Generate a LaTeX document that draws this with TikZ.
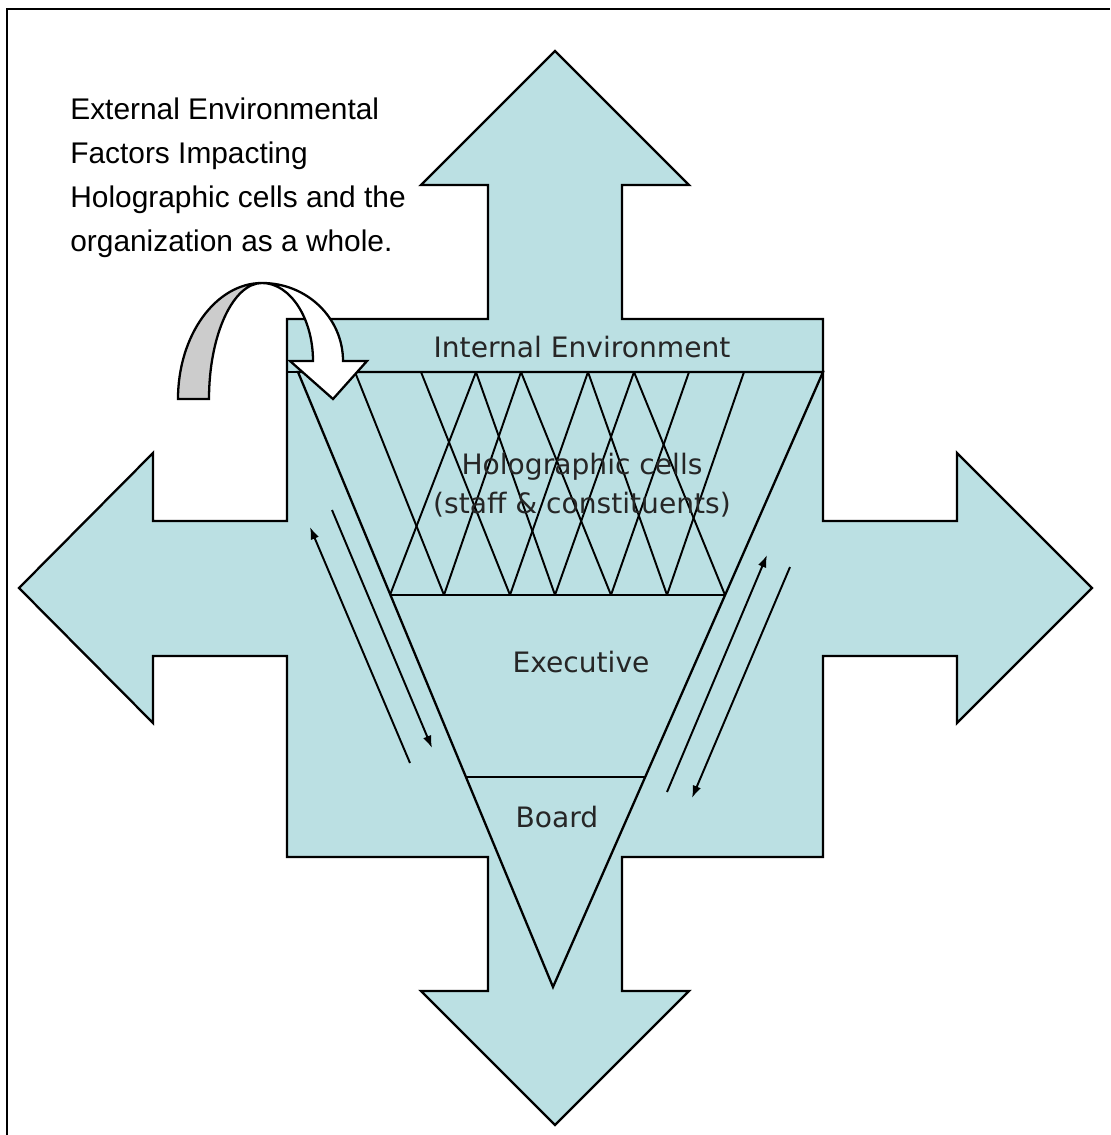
\documentclass[tikz,border=0pt]{standalone}
\usepackage{fontspec}
\setmainfont{Liberation Sans}
\newfontfamily\labelfont{DejaVu Sans}
\usetikzlibrary{arrows.meta}

\definecolor{crossfill}{RGB}{187,224,227}
\definecolor{backgrey}{RGB}{204,204,204}

\tikzset{
  outline/.style={draw=black, line width=1.3pt, line join=miter},
  cellline/.style={line width=1.1pt},
  flow/.style={line width=1.1pt, -{Latex[length=7pt,width=5pt]}},
  lbl/.style={font=\labelfont\fontsize{16}{22}\selectfont, text=black!85, align=center, inner sep=0pt},
  extlbl/.style={font=\fontsize{17}{25}\selectfont, align=left, inner sep=0pt},
}

\begin{document}
\begin{tikzpicture}[x=0.02cm, y=-0.02cm]
\useasboundingbox (0,0) rectangle (1110,1135);

\draw[line width=1.2pt] (7,1135) -- (7,9) -- (1110,9);

% four arrows round the square
\draw[outline, fill=crossfill] (555,51) -- (689,185) -- (622,185) -- (622,319) -- (823,319)
  -- (823,521) -- (957,521) -- (957,453) -- (1092,588) -- (957,723) -- (957,656) -- (823,656)
  -- (823,857) -- (622,857) -- (622,991) -- (689,991) -- (555,1125) -- (421,991) -- (488,991)
  -- (488,857) -- (287,857) -- (287,656) -- (153,656) -- (153,723) -- (19,588) -- (153,453)
  -- (153,521) -- (287,521) -- (287,319) -- (488,319) -- (488,185) -- (421,185) -- cycle;

\draw[outline] (287,372) -- (823,372);

% triangle
\draw[outline] (298,372) -- (823,372) -- (553,987) -- cycle;
\draw[outline] (390,595) -- (725,595);
\draw[outline] (467,777) -- (645,777);

\foreach \a/\b in {355/444, 421/510, 476/555, 521/611, 588/667, 634/725,
                   476/390, 521/444, 588/510, 634/555, 689/611, 744/667}
  \draw[cellline] (\a,372) -- (\b,595);

\node[lbl] (intenv) at (582,347) {Internal Environment};
\node[lbl] (cells) at (582,485) {Holographic cells\\(staff \& constituents)};
\node[lbl] (exec) at (581,662) {Executive};
\node[lbl] (board) at (557,817) {Board};

\node[extlbl, anchor=north west] (extfactors) at (70,98)
  {External Environmental\\Factors Impacting\\Holographic cells and the\\organization as a whole.};

\coordinate (lup0) at (410,763);
\coordinate (lup1) at (310,527);
\coordinate (ldown0) at (332,510);
\coordinate (ldown1) at (432,748);
\coordinate (rup0) at (667,792);
\coordinate (rup1) at (767,555);
\coordinate (rdown0) at (790,567);
\coordinate (rdown1) at (692,798);

\draw[flow] (lup0) -- (lup1);
\draw[flow] (ldown0) -- (ldown1);
\draw[flow] (rup0) -- (rup1);
\draw[flow] (rdown0) -- (rdown1);

% curved arrow
\draw[outline, fill=backgrey] (178,399) .. controls (178,335) and (216,283) .. (262,283)
  .. controls (233,283) and (209,335) .. (209,399) -- cycle;
\draw[outline, fill=white] (262,283) .. controls (307,283) and (343,318) .. (343,361)
  -- (367,361) -- (333,399) -- (290,361) -- (313,361)
  .. controls (313,318) and (290,283) .. (262,283) -- cycle;

\end{tikzpicture}
\end{document}
